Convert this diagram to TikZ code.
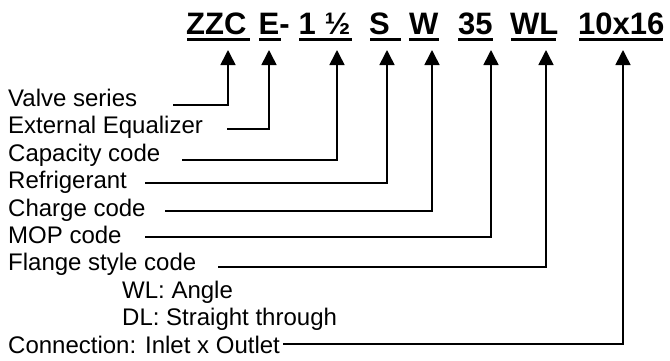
\documentclass[tikz,border=0pt]{standalone}
\usepackage{fontspec}
\setmainfont{Liberation Sans}
\usetikzlibrary{arrows.meta}
\begin{document}
\begin{tikzpicture}[x=1pt,y=-1pt,
  lab/.style={anchor=base west,inner sep=0pt,font=\fontsize{24}{28}\selectfont},
  code/.style={anchor=base west,inner sep=0pt,font=\fontsize{31}{35}\selectfont\bfseries},
  uline/.style={line width=3pt},
  conn/.style={line width=1.6pt,-{Triangle[length=15pt,width=15pt]}}]
\useasboundingbox (0,0) rectangle (670,360);
% header codes
\node[code] (c1) at (186,34) {ZZC};
\node[code] (c2) at (258.5,34) {E-};
\node[code] (c3) at (298.5,34) {1 ½};
\node[code] (c4) at (369,34) {S};
\node[code] (c5) at (409,34) {W};
\node[code] (c6) at (458,34) {35};
\node[code] (c7) at (510,34) {WL};
\node[code] (c8) at (578,34) {10x16};
% underlines
\draw[uline] (187,39) -- (250,39);
\draw[uline] (259,39) -- (281,39);
\draw[uline] (299,39) -- (352,39);
\draw[uline] (370,39) -- (401,39);
\draw[uline] (409,39) -- (439,39);
\draw[uline] (458,39) -- (493,39);
\draw[uline] (511,39) -- (556,39);
\draw[uline] (579,39) -- (663,39);
% arrow tips
\coordinate (t1) at (228,50);
\coordinate (t2) at (269,50);
\coordinate (t3) at (337,50);
\coordinate (t4) at (387,50);
\coordinate (t5) at (432,50);
\coordinate (t6) at (491,50);
\coordinate (t7) at (546,50);
\coordinate (t8) at (623,50);
% labels
\node[lab] (l1) at (8,106.5) {Valve series};
\node[lab] (l2) at (8,133.9) {External Equalizer};
\node[lab] (l3) at (8,161.3) {Capacity code};
\node[lab] (l4) at (8,188.7) {Refrigerant};
\node[lab] (l5) at (8,216.1) {Charge code};
\node[lab] (l6) at (8,243.5) {MOP code};
\node[lab] (l7) at (8,270.9) {Flange style code};
\node[lab] (l8) at (122,298.3) {WL: Angle};
\node[lab] (l9) at (122,325.7) {DL: Straight through};
\node[lab] (l10) at (8,353.1) {Connection: Inlet x Outlet};
% line starts
\coordinate (s1) at (173,105);
\coordinate (s2) at (227,129);
\coordinate (s3) at (182,160);
\coordinate (s4) at (145,183);
\coordinate (s5) at (165,211);
\coordinate (s6) at (145,237);
\coordinate (s7) at (218,267);
\coordinate (s8) at (283,344);
% connectors
\draw[conn] (s1) -| (t1);
\draw[conn] (s2) -| (t2);
\draw[conn] (s3) -| (t3);
\draw[conn] (s4) -| (t4);
\draw[conn] (s5) -| (t5);
\draw[conn] (s6) -| (t6);
\draw[conn] (s7) -| (t7);
\draw[conn] (s8) -| (t8);
\end{tikzpicture}
\end{document}
